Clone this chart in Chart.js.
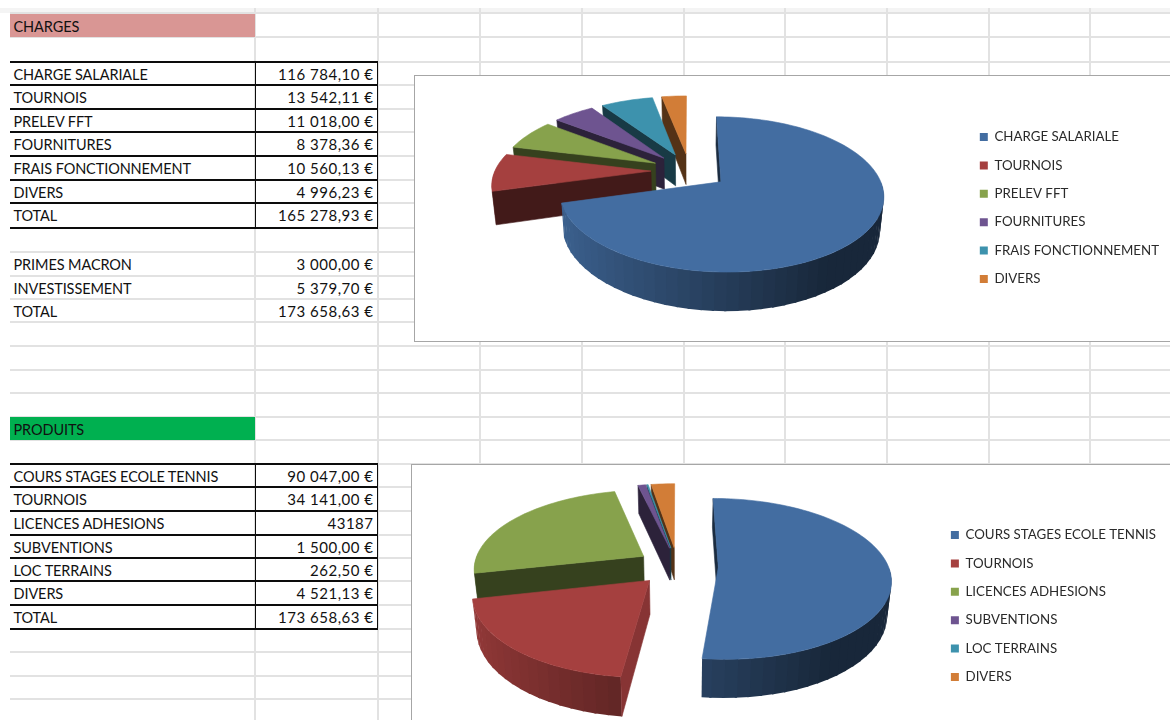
<!DOCTYPE html>
<html>
<head>
<meta charset="utf-8">
<title>Charges / Produits</title>
<script src="https://cdn.jsdelivr.net/npm/chart.js@4"></script>
<style>
  html, body { margin: 0; padding: 0; background: #fff; }
  #sheet { position: relative; width: 1170px; height: 720px; overflow: hidden; background: #fff; font-family: Lato, sans-serif; color: #111; }
  .grid, .ink, .band, .cell, .box { position: absolute; }
  .grid { background: #e2e2e2; }
  .ink { background: #0c0c0c; }
  .cell { font-size: 14.5px; line-height: 23px; white-space: nowrap; letter-spacing: -0.1px; }
  .right { text-align: right; font-size: 15px; letter-spacing: 0.5px; }
  .box { background: #fff; border: 1.5px solid #a6a6a6; box-sizing: border-box; }
  .box canvas { position: absolute; left: 0; top: 0; display: block; }
</style>
</head>
<body>
<div id="sheet"></div>
<script>
const chargesLabels = ['CHARGE SALARIALE', 'TOURNOIS', 'PRELEV FFT', 'FOURNITURES', 'FRAIS FONCTIONNEMENT', 'DIVERS'];
const chargesValues = [116784.10, 13542.11, 11018.00, 8378.36, 10560.13, 4996.23];
const chargesText   = ['116 784,10 €', '13 542,11 €', '11 018,00 €', '8 378,36 €', '10 560,13 €', '4 996,23 €'];
const chargesTotal  = '165 278,93 €';

const extraLabels = ['PRIMES MACRON', 'INVESTISSEMENT', 'TOTAL'];
const extraText   = ['3 000,00 €', '5 379,70 €', '173 658,63 €'];

const produitsLabels = ['COURS STAGES ECOLE TENNIS', 'TOURNOIS', 'LICENCES ADHESIONS', 'SUBVENTIONS', 'LOC TERRAINS', 'DIVERS'];
const produitsValues = [90047.00, 34141.00, 43187, 1500.00, 262.50, 4521.13];
const produitsText   = ['90 047,00 €', '34 141,00 €', '43187', '1 500,00 €', '262,50 €', '4 521,13 €'];
const produitsTotal  = '173 658,63 €';

const sliceColors = ['#436da1', '#a5403f', '#87a24c', '#6e5490', '#3d92ad', '#d27d37'];

// --- la feuille ---
const sheet = document.getElementById('sheet');
function add(cls, left, top, width, height, text) {
  const d = document.createElement('div');
  d.className = cls;
  d.style.cssText = `left:${left}px;top:${top}px;width:${width}px;height:${height}px;`;
  if (text !== undefined) d.textContent = text;
  sheet.appendChild(d);
  return d;
}

const rowLines = [13, 37, 61.5, 85, 109, 132, 156, 180, 203, 228, 252, 275.5, 299, 322, 346, 369.5, 393, 416.5, 440, 463.5, 487, 511, 534.5, 558, 581, 605, 628.5, 652, 675.5, 699];
const colLines = [255, 378, 480, 582, 684, 785, 887, 989, 1090];

add('band', 0, 8, 1170, 5).style.background = '#f4f4f4';
rowLines.forEach(y => add('grid', 10, Math.round(y) - 1, 1160, 2));
colLines.forEach(x => add('grid', x - 1, 8, 2, 712));
add('band', 10, 14, 245, 23).style.background = '#d99694';
add('band', 10, 417, 245, 23).style.background = '#00b050';
add('cell', 13.5, 14.5, 230, 23, 'CHARGES');
add('cell', 13.5, 417.5, 230, 23, 'PRODUITS');

function tableRows(firstRow, labels, texts, borders) {
  labels.forEach((label, i) => {
    const y = rowLines[firstRow + i];
    add('cell', 13.5, y + 1.3, 235, 23, label);
    add('cell right', 258, y + 1.3, 115.5, 23, texts[i]);
  });
  if (!borders) return;
  for (let i = 0; i <= labels.length; i++) add('ink', 10, Math.round(rowLines[firstRow + i]) - 1, 368, 2);
  const top = rowLines[firstRow], bottom = rowLines[firstRow + labels.length];
  add('ink', 255, top, 1, bottom - top);
  add('ink', 377, top, 1, bottom - top + 1);
}
tableRows(2, [...chargesLabels, 'TOTAL'], [...chargesText, chargesTotal], true);
tableRows(10, extraLabels, extraText, false);
tableRows(19, [...produitsLabels, 'TOTAL'], [...produitsText, produitsTotal], true);

// --- camembert 3D : l'arc garde ses angles Chart.js, on ne change que la projection ---
let view3d = null;

function shade(hex, f) {
  const n = parseInt(hex.slice(1), 16);
  return `rgb(${Math.round((n >> 16) * f)},${Math.round(((n >> 8) & 255) * f)},${Math.round((n & 255) * f)})`;
}
function rimPoint(arc, t, r) {
  const v = view3d;
  const mid = (arc.startAngle + arc.endAngle) / 2;
  const e = arc.options.offset;
  const X = r * Math.cos(t) + e * Math.cos(mid);
  const Y = r * Math.sin(t) + e * Math.sin(mid);
  const s = 1 / (1 - v.k * Y);
  return { x: v.cx + X * v.rx * s, y: v.cy + Y * v.ry * s, s };
}
function lower(p) {
  const v = view3d;
  return { x: v.cx + (p.x - v.cx) * v.low, y: p.y + v.depth * p.s };
}
function poly(ctx, pts, color, edge) {
  ctx.beginPath();
  pts.forEach((p, i) => i ? ctx.lineTo(p.x, p.y) : ctx.moveTo(p.x, p.y));
  ctx.closePath();
  ctx.fillStyle = color;
  ctx.fill();
  if (edge) {
    ctx.strokeStyle = color;
    ctx.lineWidth = 0.6;
    ctx.stroke();
  }
}
function drawFace(ctx, arc, t, nx) {
  const a = rimPoint(arc, t, 0), b = rimPoint(arc, t, 1);
  poly(ctx, [a, b, lower(b), lower(a)], shade(arc.options.backgroundColor, nx > 0.5 ? 0.82 : 0.4), true);
}
function drawWalls(ctx, arc) {
  const color = arc.options.backgroundColor;
  const start = arc.startAngle, end = arc.endAngle;
  const step = Math.PI / 48;
  for (let t = start; t < end; t += step) {
    const t2 = Math.min(t + step, end);
    if (Math.sin((t + t2) / 2) < -0.01) continue;
    // leger recouvrement pour eviter les fentes entre bandes
    const p = rimPoint(arc, t, 1), q = rimPoint(arc, Math.min(t2 + 0.012, end), 1);
    const f = Math.max(0.36, 0.55 - 0.35 * Math.cos((t + t2) / 2));
    poly(ctx, [p, q, lower(q), lower(p)], shade(color, f), false);
  }
  // faces coupees visibles seulement quand elles regardent vers le spectateur
  if (Math.cos(start) <= 0.001) drawFace(ctx, arc, start, Math.sin(start));
  if (Math.cos(end) >= 0.02) drawFace(ctx, arc, end, -Math.sin(end));
}
Chart.ArcElement.prototype.draw = function (ctx) {
  const pts = [rimPoint(this, this.startAngle, 0)];
  const n = Math.max(2, Math.ceil((this.endAngle - this.startAngle) / 0.03));
  for (let i = 0; i <= n; i++) {
    pts.push(rimPoint(this, this.startAngle + (this.endAngle - this.startAngle) * i / n, 1));
  }
  poly(ctx, pts, this.options.backgroundColor, true);
};
const pie3d = view => ({
  id: 'pie3d',
  beforeDatasetsDraw(chart) {
    view3d = view;
    const arcs = chart.getDatasetMeta(0).data;
    for (let i = arcs.length - 1; i >= 0; i--) drawWalls(chart.ctx, arcs[i]);
  }
});

function makePie(box, labels, values, explode, view, rightPad, legendGap) {
  const holder = add('box', box.left, box.top, box.width, box.height);
  const canvas = document.createElement('canvas');
  canvas.width = box.width - 3;
  canvas.height = box.height - 3;
  holder.appendChild(canvas);
  return new Chart(canvas.getContext('2d'), {
    type: 'pie',
    data: { labels: labels, datasets: [{ data: values, backgroundColor: sliceColors, borderWidth: 0, offset: explode, clip: false }] },
    options: {
      responsive: false,
      animation: false,
      events: [],
      layout: { padding: { right: rightPad } },
      plugins: {
        tooltip: { enabled: false },
        legend: {
          position: 'right',
          labels: {
            boxWidth: 8, boxHeight: 8, padding: legendGap, color: '#2a2a2a',
            font: { family: 'Lato', size: 13.3 }
          }
        }
      }
    },
    plugins: [pie3d(view)]
  });
}

makePie({ left: 414, top: 75, width: 770, height: 267 }, chargesLabels, chargesValues, 0.247,
  { cx: 690 - 415.5, cy: 171.3 - 76.5, rx: 156, ry: 72, k: 0.159, depth: 32, low: 0.98 }, 13, 15.1);
makePie({ left: 411, top: 464, width: 775, height: 285 }, produitsLabels, produitsValues, 0.24,
  { cx: 678 - 412.5, cy: 566.6 - 465.5, rx: 170, ry: 78.4, k: 0.145, depth: 33, low: 0.98 }, 18, 15.1);
</script>
</body>
</html>
